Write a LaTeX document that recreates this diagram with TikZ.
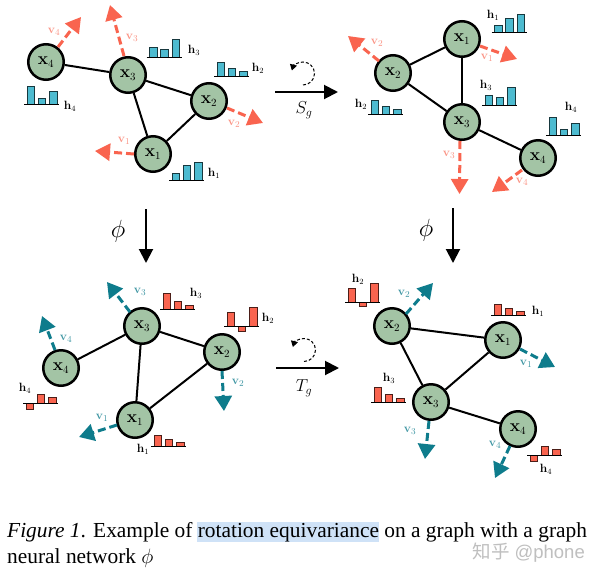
\documentclass[tikz,border=0pt]{standalone}
\usepackage[no-math]{fontspec}
\setmainfont{Liberation Serif}
\newfontfamily\cjkwm{Noto Sans CJK SC}
\newfontfamily\wmlatin{Liberation Sans}
\usetikzlibrary{arrows.meta}
\definecolor{nodefill}{HTML}{A3C4A5}
\definecolor{barblue}{HTML}{4DBBD0}
\definecolor{barred}{HTML}{F9644F}
\definecolor{vred}{HTML}{F9644F}
\definecolor{vteal}{HTML}{0E7C8C}
\definecolor{hl}{HTML}{CFE2F7}
\tikzset{
  gnode/.style={circle,draw=black,fill=nodefill,line width=2.5pt,minimum size=35.5pt,inner sep=0pt,font=\fontsize{16}{16}\selectfont},
  edge/.style={line width=2pt,black},
  vecred/.style={draw=vred,line width=3pt,dash pattern=on 8pt off 4pt,-{Triangle[length=15pt,width=17pt,fill=vred]}},
  vecteal/.style={draw=vteal,line width=3pt,dash pattern=on 8pt off 4pt,-{Triangle[length=15pt,width=17pt,fill=vteal]}},
  lab/.style={inner sep=0pt,font=\fontsize{12}{12}\selectfont},
  vr/.style={lab,text=vred!70!white,font=\fontsize{13}{13}\selectfont},
  vt/.style={lab,text=vteal!80!white,font=\fontsize{13}{13}\selectfont},
  bigarrow/.style={line width=2pt,-{Triangle[length=14pt,width=14pt]}},
  rotarc/.style={line width=1pt,dash pattern=on 3pt off 2pt},
  barbase/.style={line width=1pt,black},
  capt/.style={anchor=base west,inner sep=0pt,font=\fontsize{21.4}{21.4}\selectfont},
}
% \hist{x0}{ybase}{h1}{h2}{h3}{colour}
\newcommand{\hist}[6]{%
  \foreach \i/\hh in {0/#3,1/#4,2/#5}{%
    \draw[fill=#6,draw=black!70!#6,line width=0.8pt] ({#1+3+\i*11.3},#2) rectangle ++(7.5,{-\hh});
  }
  \draw[barbase] (#1,#2) -- ++(35,0);
}
\begin{document}
\begin{tikzpicture}[x=1pt,y=-1pt]
\useasboundingbox (0,0) rectangle (600,579);
\fill[white] (0,0) rectangle (600,579);
% ---- top left
\node[gnode] (a1) at (153,154) {$\mathbf{x}_1$};
\node[gnode] (a2) at (209,101) {$\mathbf{x}_2$};
\node[gnode] (a3) at (128,75) {$\mathbf{x}_3$};
\node[gnode] (a4) at (46,62) {$\mathbf{x}_4$};
\draw[edge] (a4)--(a3); \draw[edge] (a3)--(a2); \draw[edge] (a3)--(a1); \draw[edge] (a1)--(a2);
\coordinate (at1) at (95,151); \coordinate (at2) at (263,123); \coordinate (at3) at (110,5); \coordinate (at4) at (81,17);
\draw[vecred] (a1) ++(-19,0) -- (at1);
\draw[vecred] (a2) ++(18,7) -- (at2);
\draw[vecred] (a3) ++(-4,-19) -- (at3);
\draw[vecred] (a4) ++(12,-15) -- (at4);
\hist{146.5}{57.5}{10.5}{8}{18}{barblue}
\hist{214}{76}{14}{8}{5}{barblue}
\hist{24}{104}{18}{6}{13}{barblue}
\hist{169}{180}{7}{15}{18}{barblue}
\node[lab] (ah1) at (214,173) {$\mathbf{h}_1$};
\node[lab] (ah2) at (258,68) {$\mathbf{h}_2$};
\node[lab] (ah3) at (194,50) {$\mathbf{h}_3$};
\node[lab] (ah4) at (70,106) {$\mathbf{h}_4$};
\node[vr] (av1) at (124,141) {$\mathbf{v}_1$};
\node[vr] (av2) at (234,124) {$\mathbf{v}_2$};
\node[vr] (av3) at (132,38) {$\mathbf{v}_3$};
\node[vr] (av4) at (54,32) {$\mathbf{v}_4$};
% ---- top right
\node[gnode] (b1) at (462,39) {$\mathbf{x}_1$};
\node[gnode] (b2) at (393,73) {$\mathbf{x}_2$};
\node[gnode] (b3) at (462,122) {$\mathbf{x}_3$};
\node[gnode] (b4) at (538,158) {$\mathbf{x}_4$};
\draw[edge] (b2)--(b1); \draw[edge] (b1)--(b3); \draw[edge] (b2)--(b3); \draw[edge] (b3)--(b4);
\coordinate (bt1) at (517,59); \coordinate (bt2) at (348,36); \coordinate (bt3) at (459.5,194); \coordinate (bt4) at (492,192);
\draw[vecred] (b1) ++(18,7) -- (bt1);
\draw[vecred] (b2) ++(-14,-12) -- (bt2);
\draw[vecred] (b3) ++(-2,19) -- (bt3);
\draw[vecred] (b4) ++(-16,12) -- (bt4);
\hist{491.5}{32}{7}{14}{18}{barblue}
\hist{482}{105.5}{10}{8}{18}{barblue}
\hist{368}{114}{14}{8}{5}{barblue}
\hist{546}{135.5}{18}{6}{12}{barblue}
\node[lab] (bh1) at (493,15) {$\mathbf{h}_1$};
\node[lab] (bh2) at (361,104) {$\mathbf{h}_2$};
\node[lab] (bh3) at (486,85) {$\mathbf{h}_3$};
\node[lab] (bh4) at (571,107) {$\mathbf{h}_4$};
\node[vr] (bv1) at (487,58) {$\mathbf{v}_1$};
\node[vr] (bv2) at (377,43) {$\mathbf{v}_2$};
\node[vr] (bv3) at (449,155) {$\mathbf{v}_3$};
\node[vr] (bv4) at (522,182) {$\mathbf{v}_4$};
% ---- bottom left
\node[gnode] (c1) at (135,420) {$\mathbf{x}_1$};
\node[gnode] (c2) at (222,352) {$\mathbf{x}_2$};
\node[gnode] (c3) at (142,326) {$\mathbf{x}_3$};
\node[gnode] (c4) at (61,368) {$\mathbf{x}_4$};
\draw[edge] (c4)--(c3); \draw[edge] (c3)--(c2); \draw[edge] (c3)--(c1); \draw[edge] (c1)--(c2);
\coordinate (ct1) at (79,437); \coordinate (ct2) at (224,411); \coordinate (ct3) at (107,282); \coordinate (ct4) at (42,316);
\draw[vecteal] (c1) ++(-18,5) -- (ct1);
\draw[vecteal] (c2) ++(0,19) -- (ct2);
\draw[vecteal] (c3) ++(-12,-14) -- (ct3);
\draw[vecteal] (c4) ++(-6,-18) -- (ct4);
\hist{160}{309}{16}{8}{4}{barred}
\hist{224}{326}{14}{-5}{19}{barred}
\hist{23}{403}{-6}{9}{6}{barred}
\hist{151}{446}{11}{7}{4}{barred}
\node[lab] (ch1) at (143,449) {$\mathbf{h}_1$};
\node[lab] (ch2) at (268,318) {$\mathbf{h}_2$};
\node[lab] (ch3) at (196,293) {$\mathbf{h}_3$};
\node[lab] (ch4) at (25,388) {$\mathbf{h}_4$};
\node[vt] (cv1) at (102,418) {$\mathbf{v}_1$};
\node[vt] (cv2) at (238,383) {$\mathbf{v}_2$};
\node[vt] (cv3) at (140,292) {$\mathbf{v}_3$};
\node[vt] (cv4) at (66,339) {$\mathbf{v}_4$};
% ---- bottom right
\node[gnode] (d1) at (503,340) {$\mathbf{x}_1$};
\node[gnode] (d2) at (392,326) {$\mathbf{x}_2$};
\node[gnode] (d3) at (431,402) {$\mathbf{x}_3$};
\node[gnode] (d4) at (518,429) {$\mathbf{x}_4$};
\draw[edge] (d2)--(d1); \draw[edge] (d2)--(d3); \draw[edge] (d1)--(d3); \draw[edge] (d3)--(d4);
\coordinate (dt1) at (555,367); \coordinate (dt2) at (433,283); \coordinate (dt3) at (425,459); \coordinate (dt4) at (495,478);
\draw[vecteal] (d1) ++(17,9) -- (dt1);
\draw[vecteal] (d2) ++(14,-12) -- (dt2);
\draw[vecteal] (d3) ++(-2,19) -- (dt3);
\draw[vecteal] (d4) ++(-8,17) -- (dt4);
\hist{491}{315}{11}{7}{4}{barred}
\hist{345}{302}{14}{-4}{19}{barred}
\hist{371}{402}{15}{8}{4}{barred}
\hist{527}{455}{-6}{9}{6}{barred}
\node[lab] (dh1) at (538,311) {$\mathbf{h}_1$};
\node[lab] (dh2) at (358,279) {$\mathbf{h}_2$};
\node[lab] (dh3) at (389,378) {$\mathbf{h}_3$};
\node[lab] (dh4) at (546,469) {$\mathbf{h}_4$};
\node[vt] (dv1) at (526,364) {$\mathbf{v}_1$};
\node[vt] (dv2) at (404,294) {$\mathbf{v}_2$};
\node[vt] (dv3) at (410,431) {$\mathbf{v}_3$};
\node[vt] (dv4) at (495,445) {$\mathbf{v}_4$};
% ---- group action arrows
\coordinate (s0) at (275,92); \coordinate (s1) at (338,92);
\coordinate (t0) at (276,368); \coordinate (t1) at (339,368);
\draw[bigarrow] (s0) -- (s1);
\draw[bigarrow] (t0) -- (t1);
\node[lab,font=\fontsize{17}{17}\selectfont] (sg) at (304,110) {$S_g$};
\node[lab,font=\fontsize{17}{17}\selectfont] (tg) at (304,388) {$T_g$};
\draw[rotarc,-{Triangle[length=6pt,width=7pt]}] (303,85) arc[start angle=-90,end angle=165,radius=11.5pt];
\draw[rotarc,-{Triangle[length=6pt,width=7pt]}] (304,361.5) arc[start angle=-90,end angle=165,radius=11.5pt];
% ---- phi arrows
\coordinate (p0) at (146,209); \coordinate (p1) at (146,263);
\coordinate (q0) at (453,208); \coordinate (q1) at (453,263);
\draw[bigarrow] (p0) -- (p1);
\draw[bigarrow] (q0) -- (q1);
\node[lab,font=\fontsize{34}{34}\selectfont] (ph1) at (118,231) {$\phi$};
\node[lab,font=\fontsize{34}{34}\selectfont] (ph2) at (426,230) {$\phi$};
% ---- caption
\fill[hl] (197,522) rectangle (379,542);
\node[capt] (cap1) at (7,537) {\textit{Figure 1}. Example of rotation equivariance on a graph with a graph};
\node[capt] (cap2) at (7,563) {neural network $\phi$};
\node[anchor=base east,inner sep=0pt,text=black!25,font=\fontsize{18.5}{18.5}\selectfont] (wm) at (585,558) {{\cjkwm 知乎} {\wmlatin @phone}};
\end{tikzpicture}
\end{document}
